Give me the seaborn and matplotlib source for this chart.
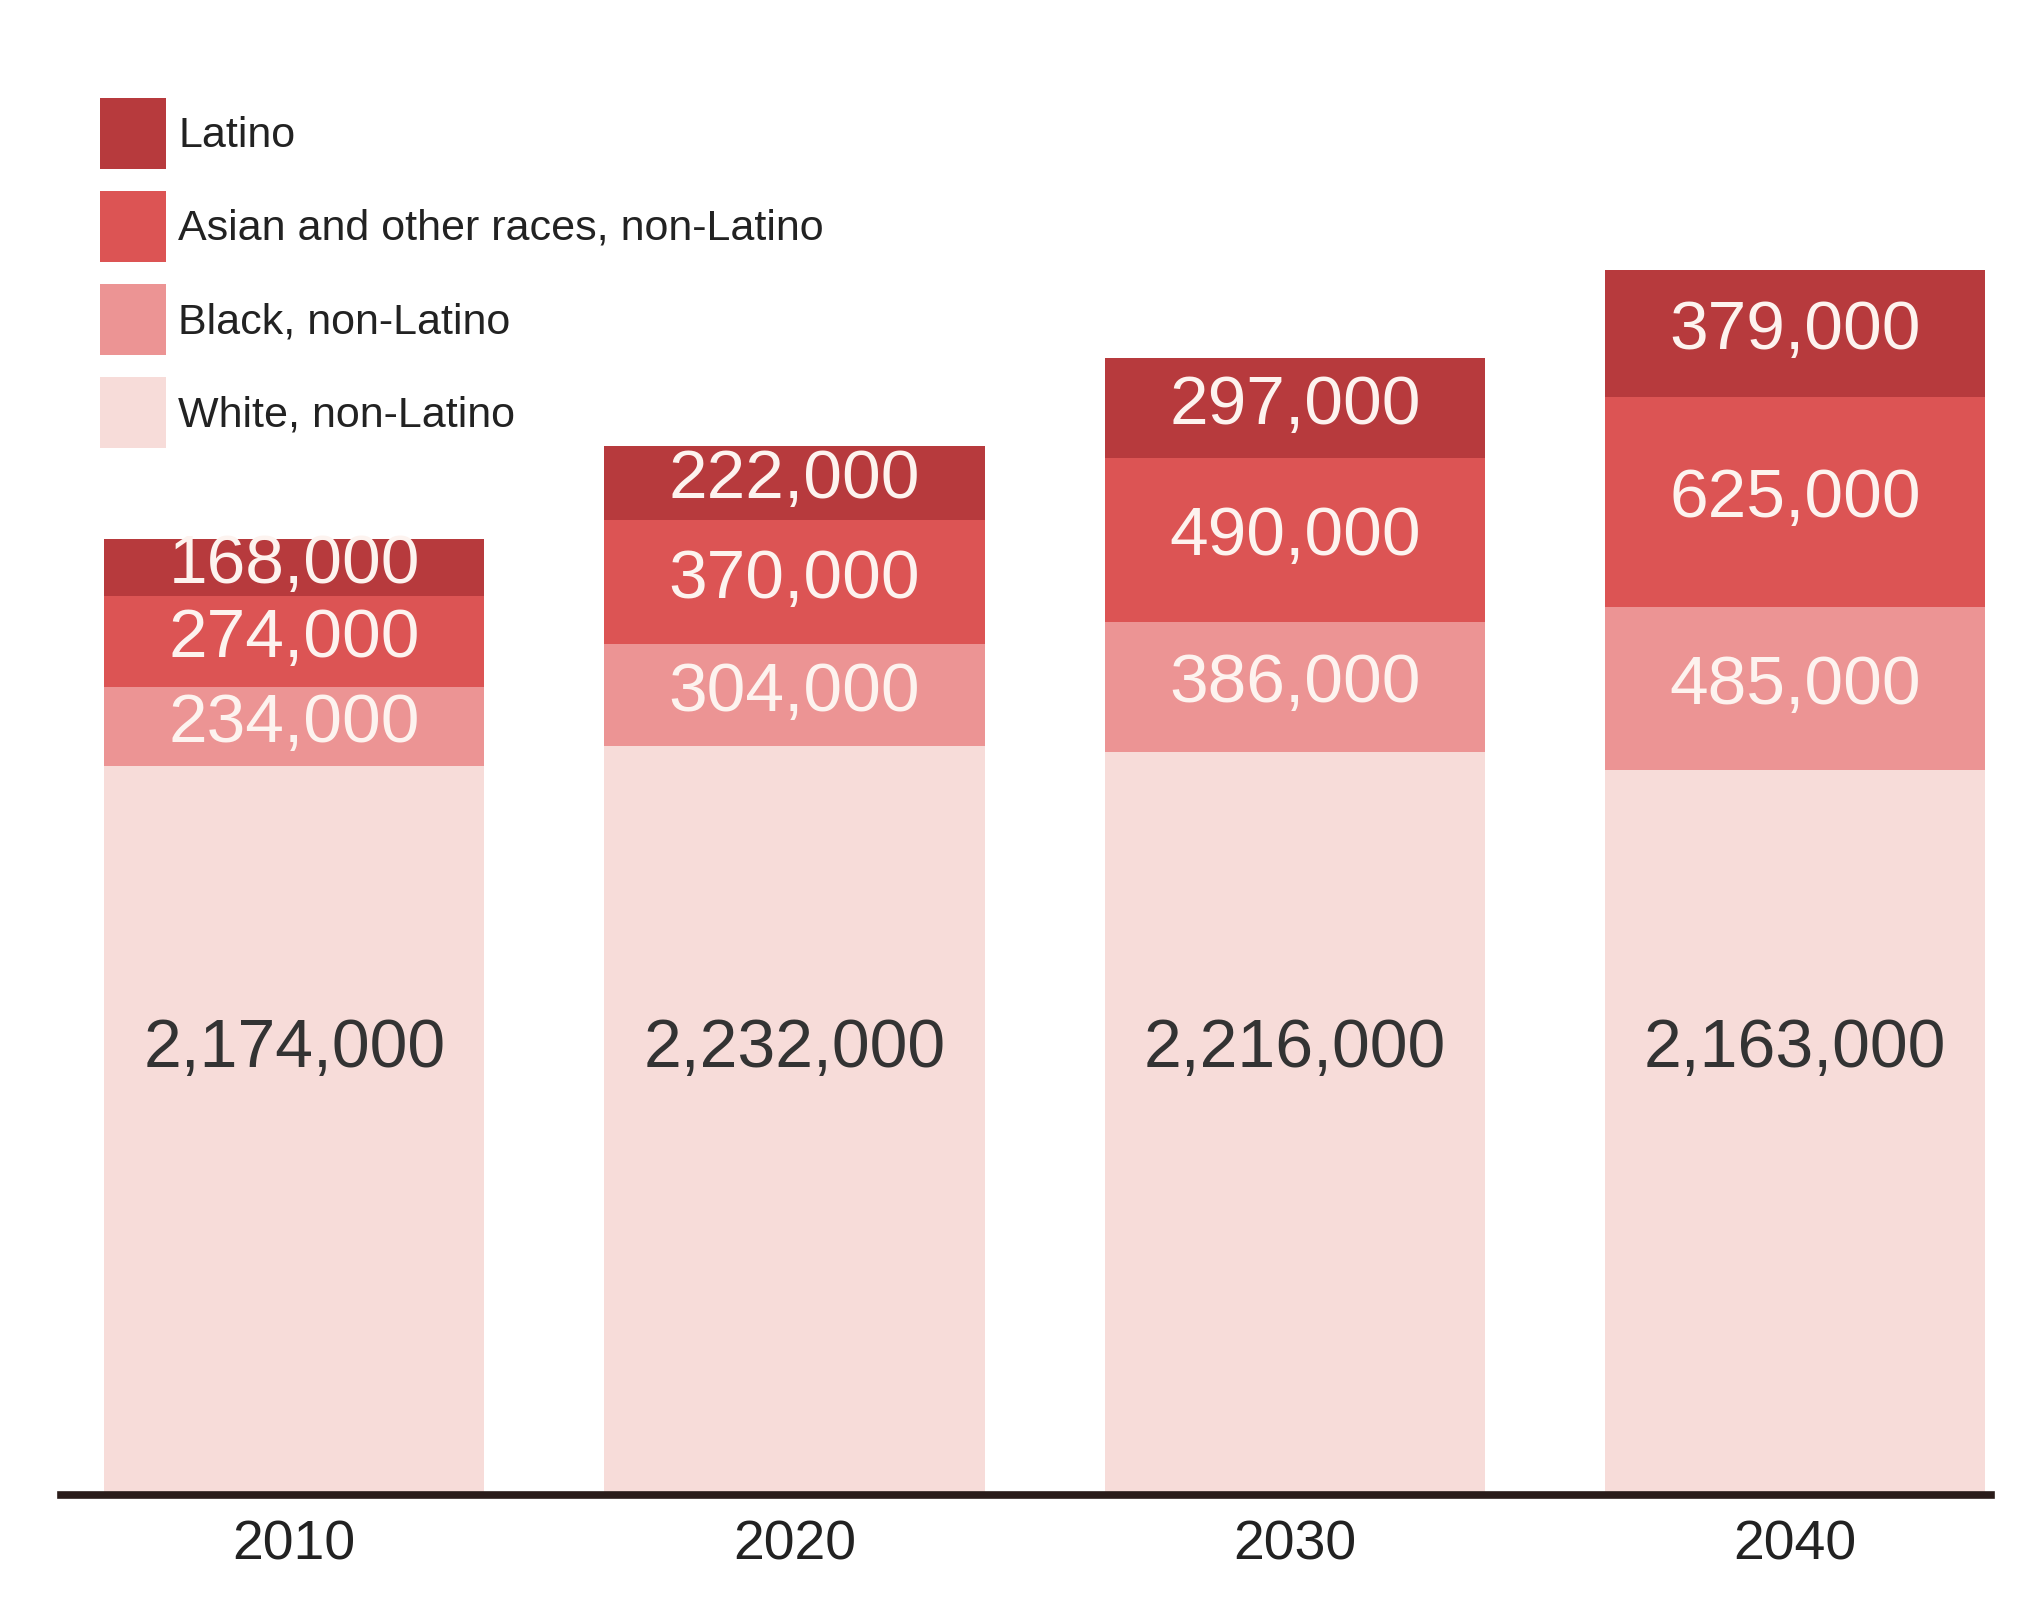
import matplotlib
matplotlib.use("Agg")
import matplotlib.pyplot as plt
import seaborn as sns
import pandas as pd
from matplotlib.patches import Patch

years = ["2010", "2020", "2030", "2040"]
white = [2174000, 2232000, 2216000, 2163000]
black = [234000, 304000, 386000, 485000]
asian = [274000, 370000, 490000, 625000]
latino = [168000, 222000, 297000, 379000]

groups = ["White, non-Latino", "Black, non-Latino",
          "Asian and other races, non-Latino", "Latino"]
colors = ["#f7dcd9", "#ec9494", "#dc5454", "#b73a3d"]

# height at which the white-segment numbers sit
WHITE_LABEL_Y = 1.33e6

sns.set_theme(style="white")
plt.rcParams["font.family"] = ["Liberation Sans", "DejaVu Sans"]

df = pd.DataFrame({"year": years, groups[0]: white, groups[1]: black,
                   groups[2]: asian, groups[3]: latino})
cum = df[groups].cumsum(axis=1)

fig = plt.figure(figsize=(20.38, 16.2), dpi=100)
ax = fig.add_axes([0.030, 0.0772, 0.947, 0.886])

# stacked bars: draw cumulative totals from the top down
for g, c in zip(groups[::-1], colors[::-1]):
    sns.barplot(x=df["year"], y=cum[g], color=c, width=0.76,
                saturation=1, ax=ax, linewidth=0)

ax.set_xlim(-0.466, 3.392)
ax.set_ylim(0, 4.28e6)

for i in range(len(years)):
    bottom = 0
    for j, g in enumerate(groups):
        v = df[g][i]
        if j == 0:
            ax.text(i, WHITE_LABEL_Y, f"{v:,}", ha="center", va="center",
                    color="#333333", fontsize=49)
        else:
            ax.text(i, bottom + v / 2 + 8000, f"{v:,}", ha="center", va="center",
                    color="#fdf3ef", fontsize=50)
        bottom += v

ax.set_yticks([])
ax.set_xlabel("")
ax.set_ylabel("")
for s in ["top", "right", "left"]:
    ax.spines[s].set_visible(False)
ax.spines["bottom"].set_linewidth(5.5)
ax.spines["bottom"].set_color("#2a1c1a")
ax.tick_params(axis="x", length=0, labelsize=40, pad=18, labelcolor="#222222")

handles = [Patch(facecolor=c, edgecolor="none") for c in colors[::-1]]
fig.legend(handles, groups[::-1], loc="upper left",
           bbox_to_anchor=(100 / 2038, 1 - 98 / 1620), frameon=False,
           fontsize=31, handlelength=1.54, handleheight=2.15,
           handletextpad=0.28, labelspacing=0.52, borderpad=0,
           borderaxespad=0, labelcolor="#222222")

fig.savefig("out.png", dpi=100, facecolor="white")
